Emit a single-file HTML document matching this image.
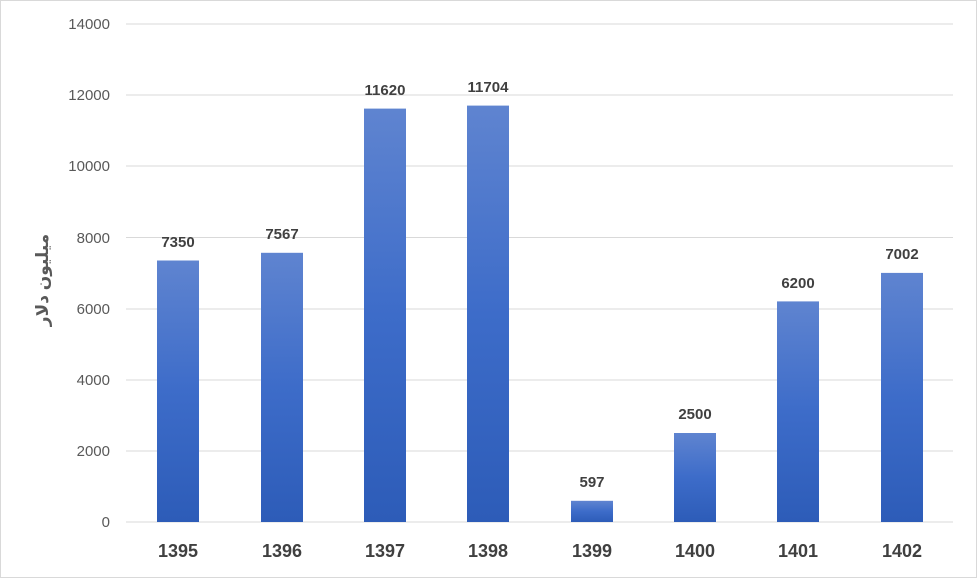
<!DOCTYPE html>
<html><head><meta charset="utf-8"><style>
body{margin:0;background:#fff;}
</style></head><body>
<svg width="977" height="578" xmlns="http://www.w3.org/2000/svg" font-family="Liberation Sans, DejaVu Sans, sans-serif">
<defs><linearGradient id="g" x1="0" y1="0" x2="0" y2="1"><stop offset="0" stop-color="#5f84d0"/><stop offset="0.5" stop-color="#3d6cc9"/><stop offset="1" stop-color="#2d5cb8"/></linearGradient></defs>
<rect x="0.5" y="0.5" width="976" height="577" fill="#fff" stroke="#d9d9d9"/>
<g stroke="#d9d9d9" stroke-width="1">
<line x1="126" x2="953" y1="24" y2="24"/><line x1="126" x2="953" y1="95" y2="95"/><line x1="126" x2="953" y1="166" y2="166"/><line x1="126" x2="953" y1="237.5" y2="237.5"/><line x1="126" x2="953" y1="309" y2="309"/><line x1="126" x2="953" y1="380" y2="380"/><line x1="126" x2="953" y1="451" y2="451"/><line x1="126" x2="953" y1="522" y2="522"/>
</g>
<g font-size="15" fill="#595959" text-anchor="end">
<text x="110" y="29">14000</text><text x="110" y="100">12000</text><text x="110" y="171">10000</text><text x="110" y="243">8000</text><text x="110" y="314">6000</text><text x="110" y="385">4000</text><text x="110" y="456">2000</text><text x="110" y="527">0</text>
</g>
<text transform="translate(48,280) rotate(-90)" text-anchor="middle" font-size="17" font-weight="bold" fill="#595959" font-family="Liberation Sans, DejaVu Sans, sans-serif">میلیون دلار</text>
<g fill="url(#g)">
<rect x="157" y="260.5" width="42" height="261.5"/>
<rect x="261" y="252.8" width="42" height="269.2"/>
<rect x="364" y="108.6" width="42" height="413.4"/>
<rect x="467" y="105.6" width="42" height="416.4"/>
<rect x="571" y="500.8" width="42" height="21.2"/>
<rect x="674" y="433" width="42" height="89"/>
<rect x="777" y="301.4" width="42" height="220.6"/>
<rect x="881" y="272.9" width="42" height="249.1"/>
</g>
<g font-size="15" font-weight="bold" fill="#404040" text-anchor="middle">
<text x="178" y="247">7350</text><text x="282" y="239">7567</text><text x="385" y="95">11620</text><text x="488" y="92">11704</text><text x="592" y="487">597</text><text x="695" y="419">2500</text><text x="798" y="288">6200</text><text x="902" y="259">7002</text>
</g>
<g font-size="18" font-weight="bold" fill="#404040" text-anchor="middle">
<text x="178" y="557">1395</text><text x="282" y="557">1396</text><text x="385" y="557">1397</text><text x="488" y="557">1398</text><text x="592" y="557">1399</text><text x="695" y="557">1400</text><text x="798" y="557">1401</text><text x="902" y="557">1402</text>
</g>
</svg>
</body></html>
